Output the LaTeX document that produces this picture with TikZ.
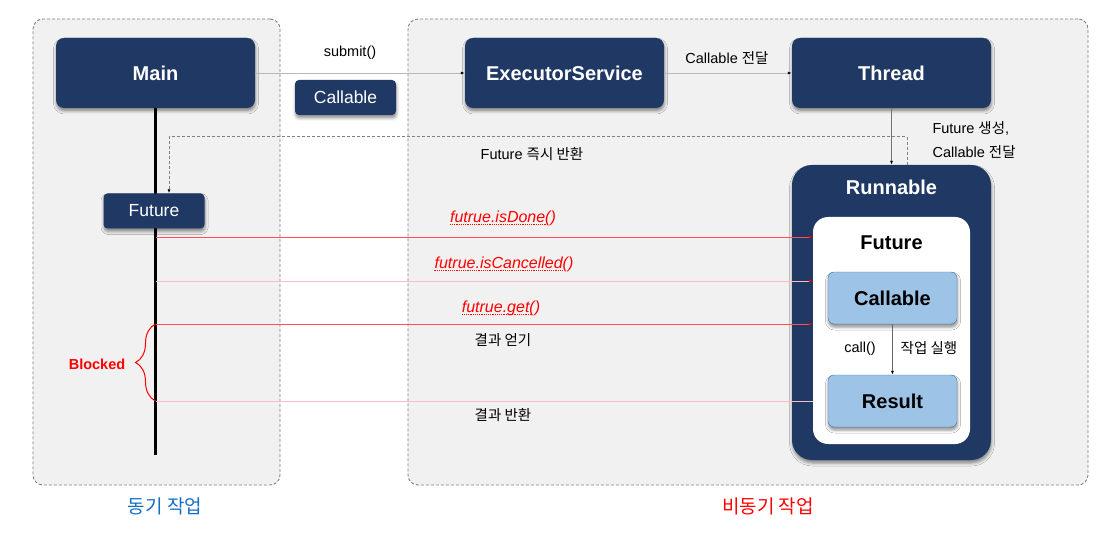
\documentclass[tikz,border=0pt]{standalone}
\usepackage{fontspec}
\setmainfont{Liberation Sans}
\newfontfamily\kr{Noto Sans CJK KR}
\usetikzlibrary{arrows.meta, positioning, shadows.blur, decorations.pathreplacing}

\definecolor{navy}{RGB}{31,56,100}
\definecolor{skyfill}{RGB}{157,195,230}
\definecolor{skyline}{RGB}{68,114,176}
\definecolor{panel}{RGB}{241,241,241}
\definecolor{syncblue}{RGB}{22,110,196}
\definecolor{callred}{RGB}{255,80,90}
\definecolor{fadered}{RGB}{245,190,195}

\begin{document}
\begin{tikzpicture}[
    x=1pt, y=-1pt,
    group/.style={rectangle, draw=black!50, dash pattern=on 3pt off 2pt, rounded corners=10pt, fill=panel, line width=0.9pt},
    navybox/.style={rectangle, fill=navy, rounded corners=8pt, text=white, blur shadow={shadow xshift=0.5pt, shadow yshift=-3pt, shadow blur radius=3pt, shadow opacity=45}},
    titlefont/.style={font=\fontsize{20}{24}\selectfont\bfseries},
    bigbox/.style={navybox, titlefont, minimum width=199pt, minimum height=70pt},
    chip/.style={navybox, rounded corners=4pt, minimum width=101pt, minimum height=35pt, font=\fontsize{17.5}{21}\selectfont},
    skybox/.style={rectangle, fill=skyfill, draw=skyline, rounded corners=6pt, titlefont, minimum width=129pt, minimum height=52pt, blur shadow={shadow xshift=0.5pt, shadow yshift=-3pt, shadow blur radius=3pt, shadow opacity=45}},
    note/.style={font=\fontsize{14.5}{17}\selectfont},
    callnote/.style={font=\fontsize{16}{19}\selectfont\itshape, text=red, inner sep=0pt},
    squiggle/.style={draw=red, densely dotted, line width=1.2pt},
    arrow/.style={-{Latex[length=4pt, width=3pt, color=black]}, draw=gray!55, line width=0.8pt},
    redarrow/.style={-{Latex[length=4pt, width=3pt, color=red]}, draw=callred, line width=0.8pt},
    fadearrow/.style={-{Latex[length=4pt, width=3pt, color=red]}, draw=fadered, line width=0.8pt},
    lifeline/.style={draw=black, line width=2.2pt}
]
    \useasboundingbox (0,0) rectangle (1114,540);

    % panels
    \node[group, minimum width=247pt, minimum height=466pt] (syncpanel) at (156.5,252) {};
    \node[group, minimum width=680pt, minimum height=466pt] (asyncpanel) at (748,252) {};

    % caller side
    \node[bigbox] (main) at (155.5,73) {Main};
    \coordinate (lifeend) at (155.5,455);
    \draw[lifeline] (main.south) -- (lifeend);
    \node[chip] (future) at (154,211) {Future};
    \node[chip] (callable) at (345.5,97.5) {Callable};
    \node[note] (submit) at (350,53) {submit()};

    % executor side
    \node[bigbox] (executor) at (564.5,73) {ExecutorService};
    \node[bigbox] (thread) at (891.5,73) {Thread};
    \node[note] (handoff) at (727,58) {Callable {\kr 전달}};
    \node[note, anchor=west] (made) at (929,128) {Future {\kr 생성},};
    \node[note, anchor=west] (passed) at (929,152) {Callable {\kr 전달}};
    \node[note] (instant) at (532,154) {Future {\kr 즉시 반환}};

    \node[navybox, rounded corners=20pt, minimum width=199pt, minimum height=295pt] (runnable) at (891.5,312.5) {};
    \node[titlefont, text=white, below=11.5pt of runnable.north] (runtitle) {Runnable};
    \node[rectangle, fill=white, rounded corners=15pt, minimum width=157pt, minimum height=227pt] (futurebox) at (891.5,330.5) {};
    \node[titlefont, below=15.5pt of futurebox.north] (futtitle) {Future};
    \node[skybox] (task) at (892.5,298) {Callable};
    \node[skybox] (result) at (892.5,401) {Result};
    \node[note] (call) at (860,349) {call()};
    \node[note] (run) at (929,348) {\kr 작업 실행};

    \draw[arrow] (main.east |- executor.west) -- (executor.west);
    \draw[arrow] (executor) -- (thread);
    \draw[arrow, draw=gray!90!black] (thread) -- (runnable);
    \draw[arrow, draw=gray!80!black] (task) -- (result);
    \draw[arrow, draw=black!50, dash pattern=on 3pt off 2pt] ([xshift=15.5pt]runnable.north) -- ++(0,-28) -| ([xshift=15pt]future.north);

    % calls on the future
    \coordinate (ask1) at (155.5,237);
    \coordinate (ask2) at (155.5,281);
    \coordinate (ask3) at (155.5,324);
    \coordinate (back) at (155.5,401);
    \draw[redarrow] (ask1) -- (ask1 -| futurebox.west);
    \draw[fadearrow] (ask2) -- (ask2 -| futurebox.west);
    \draw[redarrow] (ask3) -- (ask3 -| futurebox.west);
    \draw[draw=fadered, line width=0.8pt] (back) -- (back -| futurebox.west);

    \node[callnote] (isdone) at (503,218) {futrue.isDone()};
    \node[callnote] (iscancel) at (504,264) {futrue.isCancelled()};
    \node[callnote] (get) at (501,308) {futrue.get()};
    \draw[squiggle] ([yshift=-2pt]isdone.base west) -- ([xshift=-10pt, yshift=-2pt]isdone.base east);
    \draw[squiggle] ([yshift=-2pt]iscancel.base west) -- ([xshift=-10pt, yshift=-2pt]iscancel.base east);
    \draw[squiggle] ([yshift=-2pt]get.base west) -- ([xshift=-10pt, yshift=-2pt]get.base east);
    \node[note] (obtain) at (503,340) {\kr 결과 얻기};
    \node[note] (giveback) at (503,415) {\kr 결과 반환};

    \draw[red, line width=1pt, decorate, decoration={brace, amplitude=20pt}] (back) -- (ask3);
    \node[font=\fontsize{14.5}{17}\selectfont\bfseries, text=red] (blocked) at (97,364) {Blocked};

    \node[font=\kr\fontsize{19}{22}\selectfont, text=syncblue] (synclabel) at (165,506) {동기 작업};
    \node[font=\kr\fontsize{19}{22}\selectfont, text=red] (asynclabel) at (768,506) {비동기 작업};
\end{tikzpicture}
\end{document}
